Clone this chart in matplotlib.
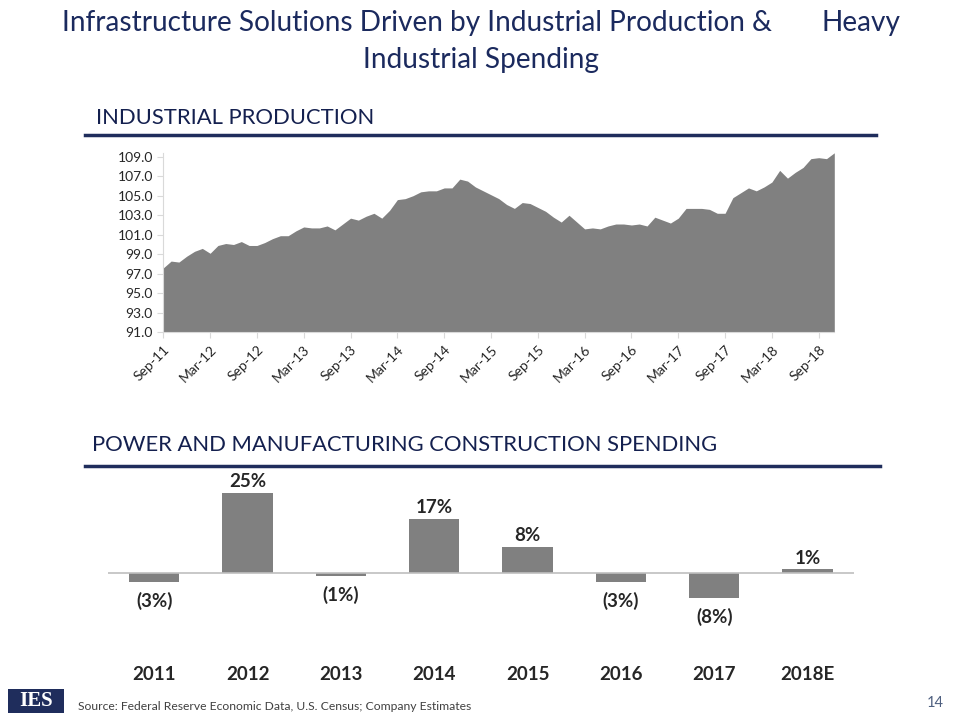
import numpy as np
import pandas as pd
import matplotlib
matplotlib.use("Agg")
import matplotlib.pyplot as plt
from matplotlib.lines import Line2D
from matplotlib.patches import Rectangle

plt.rcParams['font.family'] = ['Lato', 'DejaVu Sans']

# industrial production index, monthly from Sep-11
ip_values = [97.6, 98.3, 98.2, 98.8, 99.3, 99.6, 99.1, 99.9, 100.1, 100.0,
             100.3, 99.9, 99.9, 100.2, 100.6, 100.9, 100.9, 101.4, 101.8, 101.7,
             101.7, 101.9, 101.5, 102.1, 102.7, 102.5, 102.9, 103.2, 102.7, 103.5,
             104.6, 104.7, 105.0, 105.4, 105.5, 105.5, 105.8, 105.8, 106.7, 106.5,
             105.9, 105.5, 105.1, 104.7, 104.1, 103.7, 104.3, 104.2, 103.8, 103.4,
             102.8, 102.3, 103.0, 102.3, 101.6, 101.7, 101.6, 101.9, 102.1, 102.1,
             102.0, 102.1, 101.9, 102.8, 102.5, 102.2, 102.7, 103.7, 103.7, 103.7,
             103.6, 103.2, 103.2, 104.8, 105.3, 105.8, 105.5, 105.9, 106.4, 107.6,
             106.8, 107.4, 107.9, 108.8, 108.9, 108.8, 109.4]
ip_months = pd.date_range('2011-09-01', periods=len(ip_values), freq='MS')
ip_labels = [d.strftime('%b-%y') for d in ip_months]
ip_yticks = [91.0, 93.0, 95.0, 97.0, 99.0, 101.0, 103.0, 105.0, 107.0, 109.0]

# power & manufacturing construction spending growth (%)
sp_years = ['2011', '2012', '2013', '2014', '2015', '2016', '2017', '2018E']
sp_values = [-3, 25, -1, 17, 8, -3, -8, 1]

NAVY = '#1B2A5E'
GRAY = '#808080'
TXT = '#262626'
W, H = 960, 720


def rect(x0, y0, x1, y1):
    # pixel box (top-left origin) -> figure fraction
    return [x0 / W, 1 - y1 / H, (x1 - x0) / W, (y1 - y0) / H]


fig = plt.figure(figsize=(9.6, 7.2), dpi=100)

# titles
fig.text(62 / W, 1 - 23 / H, 'Infrastructure Solutions Driven by Industrial Production &',
         fontsize=20.2, color=NAVY, ha='left', va='center')
fig.text(900 / W, 1 - 23 / H, 'Heavy', fontsize=20.2, color=NAVY, ha='right', va='center')
fig.text(481 / W, 1 - 60 / H, 'Industrial Spending', fontsize=20.2, color=NAVY,
         ha='center', va='center')

# section headers
fig.text(96 / W, 1 - 118 / H, 'INDUSTRIAL PRODUCTION', fontsize=15.8, color='#14204F',
         ha='left', va='center')
fig.add_artist(Line2D([85 / W, 876 / W], [1 - 135 / H, 1 - 135 / H], color='#1F2D5C', lw=2.5))
fig.text(92 / W, 1 - 445 / H, 'POWER AND MANUFACTURING CONSTRUCTION SPENDING', fontsize=15.8,
         color='#14204F', ha='left', va='center')
fig.add_artist(Line2D([85 / W, 880 / W], [1 - 466 / H, 1 - 466 / H], color='#1F2D5C', lw=2.5))

# industrial production area chart
ax1 = fig.add_axes(rect(163.3, 152.7, 834.3, 332.3))
x = np.arange(len(ip_values))
ax1.fill_between(x, 91.0, ip_values, color=GRAY, lw=0)
ax1.set_xlim(0, len(ip_values) - 1)
ax1.set_ylim(91.0, 109.41)
ax1.set_yticks(ip_yticks)
ax1.set_yticklabels(['%.1f' % v for v in ip_yticks], fontsize=10, color=TXT)
ax1.set_xticks(x[::6])
ax1.set_xticklabels(ip_labels[::6], rotation=45, ha='right', va='top',
                    rotation_mode='anchor', fontsize=10, color=TXT)
for s in ['top', 'right']:
    ax1.spines[s].set_visible(False)
for s in ['left', 'bottom']:
    ax1.spines[s].set_color('#D9D9D9')
ax1.tick_params(axis='both', colors='#D9D9D9', length=4, labelcolor=TXT)
ax1.tick_params(axis='x', pad=4)
ax1.patch.set_alpha(0)

# construction spending bar chart
ax2 = fig.add_axes(rect(107.6, 480, 854.2, 655))
xb = np.arange(len(sp_values))
ax2.bar(xb, sp_values, width=0.54, color=GRAY)
ax2.axhline(0, color='#BFBFBF', lw=1.2)
ax2.set_xlim(-0.5, len(sp_values) - 0.5)
ax2.set_ylim(-25.9, 29.1)
for xi, v in zip(xb, sp_values):
    lab = '%d%%' % v if v >= 0 else '(%d%%)' % abs(v)
    if v >= 0:
        ax2.annotate(lab, (xi, v), xytext=(0, 2), textcoords='offset points',
                     ha='center', va='bottom', fontsize=13.5, fontweight='bold', color=TXT)
    else:
        ax2.annotate(lab, (xi, v), xytext=(0, -7), textcoords='offset points',
                     ha='center', va='top', fontsize=13.5, fontweight='bold', color=TXT)
ax2.set_yticks([])
ax2.set_xticks(xb)
ax2.set_xticklabels(sp_years, fontsize=13.5, fontweight='bold', color=TXT)
ax2.tick_params(axis='x', length=0, pad=8)
for s in ax2.spines.values():
    s.set_visible(False)
ax2.patch.set_alpha(0)

# footer
fig.add_artist(Rectangle((8 / W, 1 - 713 / H), 56 / W, 24 / H, transform=fig.transFigure,
                         facecolor='#1F2D5C', edgecolor='none'))
fig.text(36 / W, 1 - 701 / H, 'IES', family=['Liberation Serif', 'DejaVu Serif'],
         fontsize=15, fontweight='bold', color='white', ha='center', va='center')
fig.text(78 / W, 1 - 706 / H, 'Source: Federal Reserve Economic Data, U.S. Census; Company Estimates',
         fontsize=8.7, color='#404040', ha='left', va='center')
fig.text(935 / W, 1 - 703 / H, '14', fontsize=10.5, color='#4F6080', ha='center', va='center')

fig.savefig('out.png', dpi=100)
